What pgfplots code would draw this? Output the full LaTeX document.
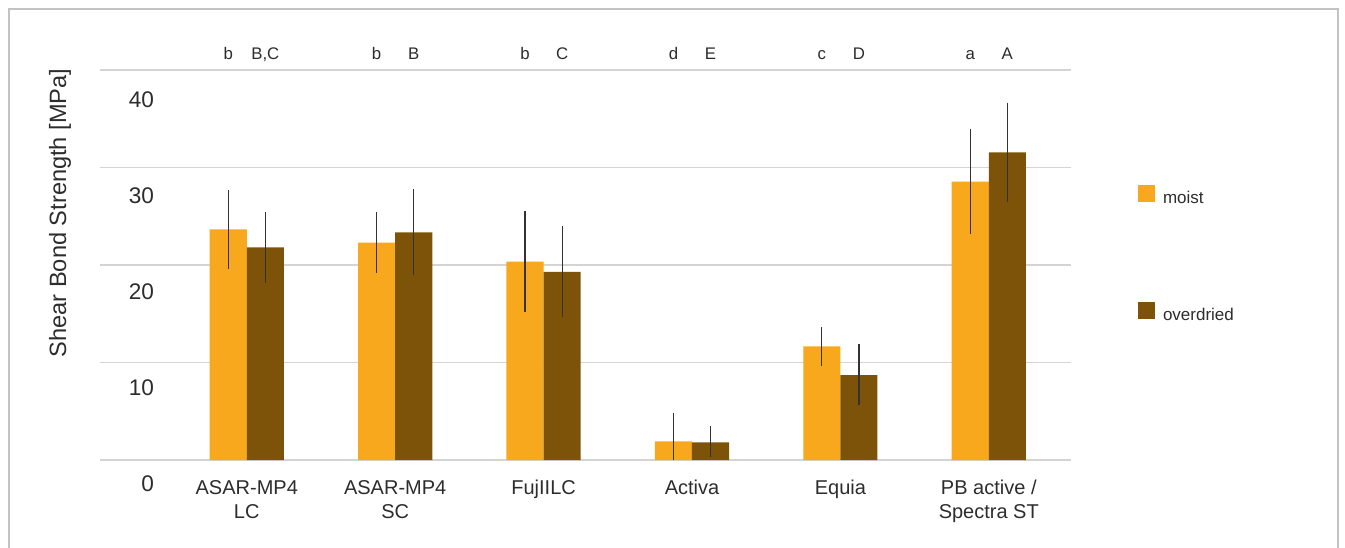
\documentclass[border=0pt]{standalone}
\usepackage{fontspec}
\setmainfont{Liberation Sans}
\usepackage{pgfplots}
\usepackage{pgfplotstable}
\pgfplotsset{compat=1.18}
\definecolor{moist}{RGB}{248,168,29}
\definecolor{dry}{RGB}{125,83,10}
\definecolor{gridc}{RGB}{212,212,212}
\definecolor{txt}{RGB}{45,45,45}
\definecolor{framec}{RGB}{195,195,195}
\pgfplotstableread{
x y ep em
0 23.65 4.05 4.05
1 22.30 3.10 3.10
2 20.35 5.20 5.20
3 1.90 2.87 1.90
4 11.65 1.97 1.97
5 28.55 5.40 5.40
}\moisttab
\pgfplotstableread{
x y ep em
0 21.80 3.60 3.60
1 23.35 4.40 4.40
2 19.30 4.65 4.65
3 1.80 1.64 1.51
4 8.70 3.20 3.07
5 31.55 5.10 5.10
}\drytab
\tikzset{letter/.style={anchor=base, text=txt, font=\fontsize{8.4bp}{10bp}\selectfont, inner sep=0pt}}
\begin{document}
\begin{tikzpicture}
\fill[white] (-50bp,-44bp) rectangle (622.5bp,230bp);
\draw[framec, line width=0.7bp] (-45.5bp,-50bp) -- (-45.5bp,225.5bp) -- (619bp,225.5bp) -- (619bp,-50bp);
\begin{axis}[
  at={(0,0)}, anchor=south west,
  scale only axis, width=485.65bp, height=195bp,
  xmin=-0.989, xmax=5.556, ymin=0, ymax=40,
  axis line style={draw=none},
  major tick length=0pt,
  ytick={0,10,20,30,40},
  ymajorgrids, grid style={gridc, line width=0.8bp},
  xtick={0,1,2,3,4,5},
  xticklabels={{ASAR-MP4\\LC},{ASAR-MP4\\SC},{FujIILC},{Activa},{Equia},{PB active /\\Spectra ST}},
  xticklabel style={align=center, font=\fontsize{10bp}{12bp}\selectfont, text=txt, inner sep=0pt, yshift=-10bp},
  yticklabel style={anchor=east, inner sep=0pt, font=\fontsize{11.3bp}{13bp}\selectfont, text=txt, xshift=27.2bp, yshift={-12bp-0.75bp*\ticknum}},
  /pgf/number format/assume math mode=true,
  ybar=0pt, bar width=0.25,
  clip=false,
  legend style={draw=none, fill=none, at={(1.0687,0.7051)}, anchor=north west, inner sep=0pt, outer sep=0pt,
    font=\fontsize{8.5bp}{10bp}\selectfont, text=txt, row sep=47.5bp, nodes={inner sep=0pt},
    /tikz/every odd column/.append style={column sep=4bp}},
  legend cell align=left,
  legend image code/.code={\fill[#1] (0bp,-1.35bp) rectangle (8.5bp,7.15bp);},
  error bars/y dir=both, error bars/y explicit,
  error bars/error mark=none,
  error bars/error bar style={black!80, line width=0.6bp},
]
\addplot[fill=moist, draw=none] table[x=x, y=y, y error plus=ep, y error minus=em] {\moisttab};
\addplot[fill=dry, draw=none] table[x=x, y=y, y error plus=ep, y error minus=em] {\drytab};
\legend{moist, overdried}
\node[letter] at (axis cs:-0.125,41.09) {b};
\node[letter] at (axis cs:0.125,41.09) {B,C};
\node[letter] at (axis cs:0.875,41.09) {b};
\node[letter] at (axis cs:1.125,41.09) {B};
\node[letter] at (axis cs:1.875,41.09) {b};
\node[letter] at (axis cs:2.125,41.09) {C};
\node[letter] at (axis cs:2.875,41.09) {d};
\node[letter] at (axis cs:3.125,41.09) {E};
\node[letter] at (axis cs:3.875,41.09) {c};
\node[letter] at (axis cs:4.125,41.09) {D};
\node[letter] at (axis cs:4.875,41.09) {a};
\node[letter] at (axis cs:5.125,41.09) {A};
\end{axis}
\node[rotate=90, text=txt, font=\fontsize{11.8bp}{13bp}\selectfont] at (-20bp,123.5bp) {Shear Bond Strength [MPa]};
\pgfresetboundingbox
\path[use as bounding box] (-50bp,-44bp) rectangle (622.5bp,230bp);
\end{tikzpicture}
\end{document}
